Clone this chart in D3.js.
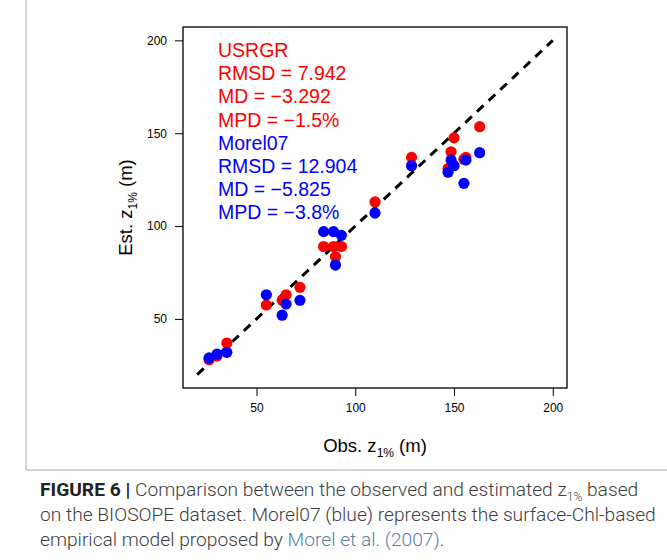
<!DOCTYPE html>
<html>
<head>
<meta charset="utf-8">
<title>Figure 6</title>
<script src="https://cdn.jsdelivr.net/npm/d3@7"></script>
<style>
body { margin: 0; background: #fff; }
svg text { font-family: "Liberation Sans", Arial, sans-serif; }
.caption text { font-family: "Roboto", sans-serif; font-weight: 300; }
</style>
</head>
<body>
<div id="chart"></div>
<script>
// observed z1% (m), shared by both models
var obs = [26, 30, 35, 55, 63, 65, 72, 84, 89, 90, 93, 110, 128.5, 147, 148.5, 150, 155, 156, 163];
// estimated z1% (m)
var usrgr = [28, 30, 37, 57.5, 60, 63, 67, 89, 89, 83.5, 89, 113, 137, 131, 140, 147.5, 136, 137, 153.5];
var morel = [29, 31, 32, 63, 52, 58, 60, 97, 97, 79, 95, 107, 132.5, 129, 135.5, 132.5, 123, 135.5, 139.5];
var ticks = [50, 100, 150, 200];
var statsUsrgr = ["USRGR", "RMSD = 7.942", "MD = \u22123.292", "MPD = \u22121.5%"];
var statsMorel = ["Morel07", "RMSD = 12.904", "MD = \u22125.825", "MPD = \u22123.8%"];

function draw() {
  var W = 667, H = 560;
  var pl = 183, pr = 567, pt = 27, pb = 388;

  var svg = d3.select("#chart").append("svg")
      .attr("width", W)
      .attr("height", H);

  // figure frame
  svg.append("path")
      .attr("d", "M26,0 V470 H667")
      .attr("fill", "none")
      .attr("stroke", "#aaa")
      .attr("stroke-width", 1);

  var x = d3.scaleLinear().domain([12.8, 207.2]).range([pl, pr]);
  var y = d3.scaleLinear().domain([12.8, 207.2]).range([pb, pt]);

  var xAxis = svg.append("g")
      .attr("transform", "translate(0," + pb + ")")
      .call(d3.axisBottom(x).tickValues(ticks).tickSize(8).tickPadding(7));
  var yAxis = svg.append("g")
      .attr("transform", "translate(" + pl + ",0)")
      .call(d3.axisLeft(y).tickValues(ticks).tickSize(8).tickPadding(8));
  [xAxis, yAxis].forEach(function(a) {
    a.select(".domain").remove();
    a.selectAll("line").attr("stroke", "#000").attr("stroke-width", 1);
    a.selectAll("text").attr("font-size", 12).attr("fill", "#000")
      .style("font-family", "'Liberation Sans', Arial, sans-serif");
  });

  // 1:1 line
  svg.append("line")
      .attr("x1", x(20)).attr("y1", y(20))
      .attr("x2", x(200)).attr("y2", y(200))
      .attr("stroke", "#000")
      .attr("stroke-width", 3)
      .attr("stroke-dasharray", "9,7");

  svg.selectAll(".red").data(obs).enter().append("circle")
      .attr("class", "red")
      .attr("cx", function(d) { return x(d); })
      .attr("cy", function(d, i) { return y(usrgr[i]); })
      .attr("r", 5.6)
      .attr("fill", "#ff0000");

  svg.selectAll(".blue").data(obs).enter().append("circle")
      .attr("class", "blue")
      .attr("cx", function(d) { return x(d); })
      .attr("cy", function(d, i) { return y(morel[i]); })
      .attr("r", 5.6)
      .attr("fill", "#0000ff");

  // plot box
  svg.append("rect")
      .attr("x", pl).attr("y", pt)
      .attr("width", pr - pl).attr("height", pb - pt)
      .attr("fill", "none")
      .attr("stroke", "#000")
      .attr("stroke-width", 1.3);

  // stats text
  var stats = statsUsrgr.map(function(t) { return {t: t, c: "#ff0000"}; })
    .concat(statsMorel.map(function(t) { return {t: t, c: "#0000ff"}; }));
  svg.selectAll(".stat").data(stats).enter().append("text")
      .attr("class", "stat")
      .attr("x", 218)
      .attr("y", function(d, i) { return 57 + i * 23.2; })
      .attr("font-size", 19.5)
      .attr("fill", function(d) { return d.c; })
      .text(function(d) { return d.t; });

  // axis titles
  var xt = svg.append("text")
      .attr("x", (pl + pr) / 2)
      .attr("y", 452)
      .attr("text-anchor", "middle")
      .attr("font-size", 18.5);
  xt.append("tspan").text("Obs. z");
  xt.append("tspan").attr("font-size", 12).attr("dy", 5).text("1%");
  xt.append("tspan").attr("dy", -5).text(" (m)");

  var yt = svg.append("text")
      .attr("transform", "translate(132," + (pt + pb) / 2 + ") rotate(-90)")
      .attr("text-anchor", "middle")
      .attr("font-size", 18.5);
  yt.append("tspan").text("Est. z");
  yt.append("tspan").attr("font-size", 12).attr("dy", 5).text("1%");
  yt.append("tspan").attr("dy", -5).text(" (m)");

  // caption
  var cap = svg.append("g").attr("class", "caption")
      .attr("font-size", 19.2)
      .attr("fill", "#3c3c3c");
  var l1 = cap.append("text").attr("x", 40).attr("y", 496);
  l1.append("tspan").attr("font-weight", "bold").attr("fill", "#222").text("FIGURE 6 | ");
  l1.append("tspan").text("Comparison between the observed and estimated z");
  l1.append("tspan").attr("font-size", 12).attr("dy", 5).text("1%");
  l1.append("tspan").attr("dy", -5).text(" based");
  cap.append("text").attr("x", 40).attr("y", 521)
      .text("on the BIOSOPE dataset. Morel07 (blue) represents the surface-Chl-based");
  var l3 = cap.append("text").attr("x", 40).attr("y", 546);
  l3.append("tspan").text("empirical model proposed by ");
  l3.append("tspan").attr("fill", "#5a7ea8").text("Morel et al. (2007)");
  l3.append("tspan").text(".");
}

draw();
</script>
</body>
</html>
